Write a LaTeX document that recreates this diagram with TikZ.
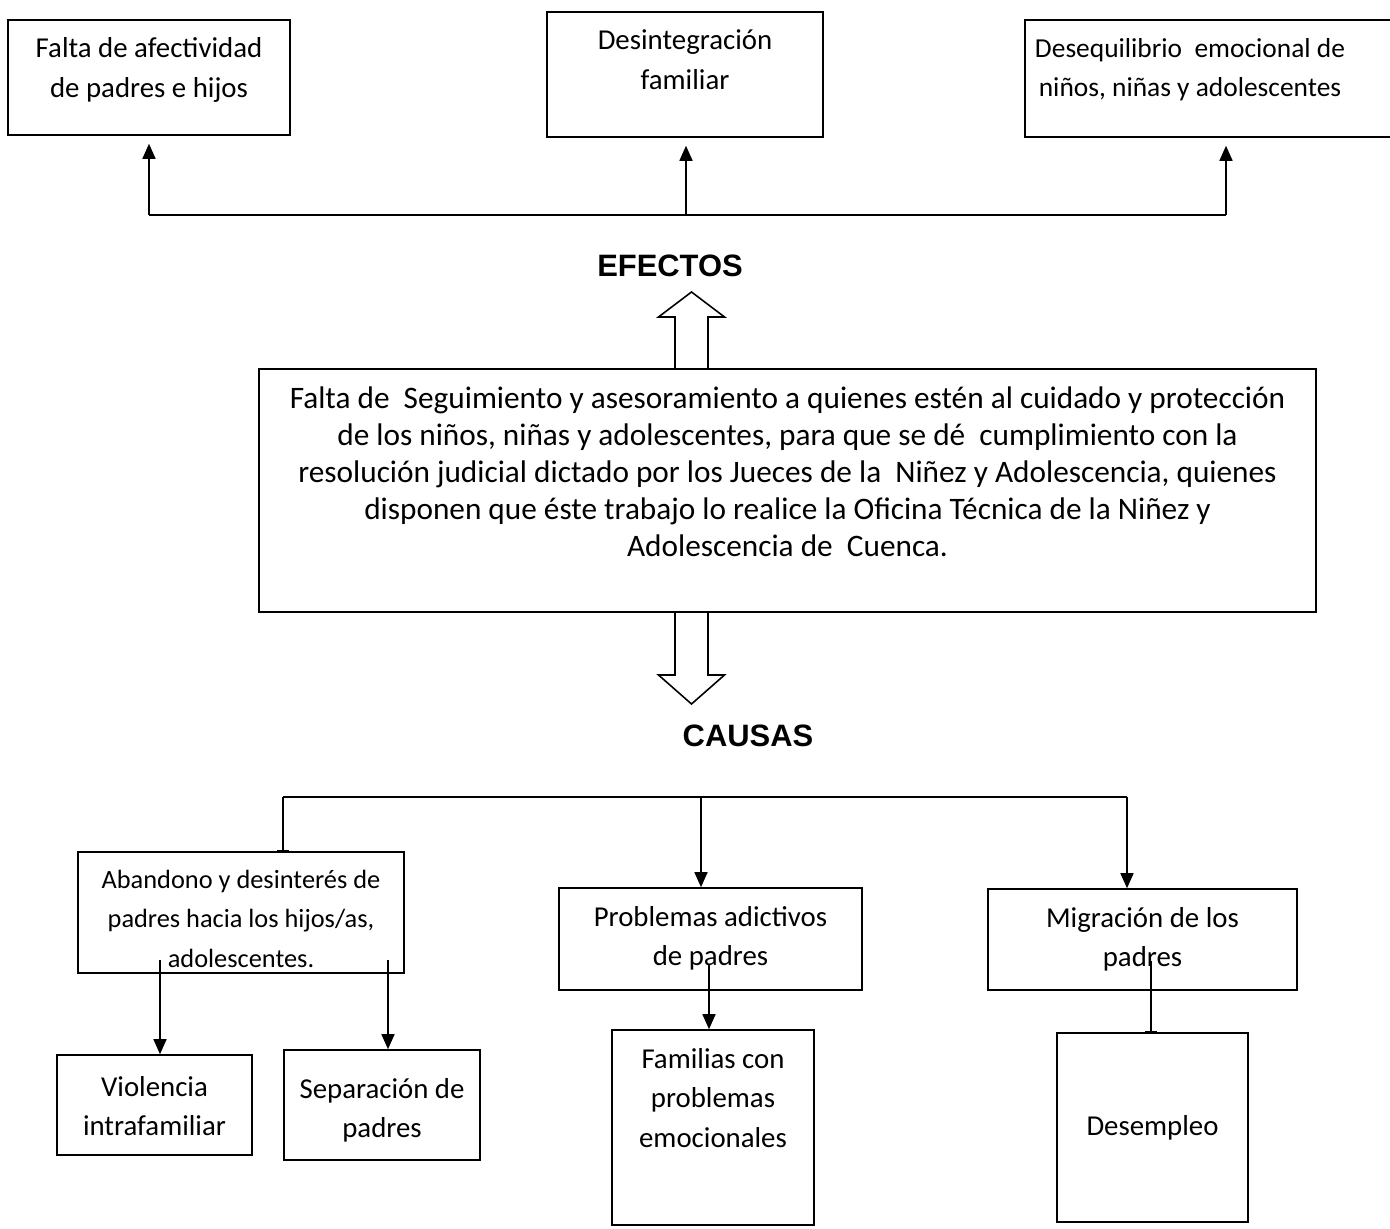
\documentclass[tikz,border=0pt]{standalone}
\usepackage{fontspec}
\setmainfont{Carlito}
\newfontfamily\headfont{Liberation Sans}
\usepackage{tikz}
\usetikzlibrary{arrows.meta, positioning}

% box with text at the top: width, height, text
\newcommand{\boxtxt}[3]{\parbox[c][#2][t]{#1}{\centering\vspace{0.36cm}#3}}

\begin{document}
\begin{tikzpicture}[
    box/.style={rectangle, draw, line width=0.9pt, inner sep=0pt, font=\fontsize{16.4}{22.5}\selectfont},
    head/.style={font=\headfont\bfseries\fontsize{17.6}{20}\selectfont},
    line/.style={line width=0.9pt},
    arrow/.style={line width=0.9pt, -{Triangle[width=0.26cm, length=0.3cm]}},
    tee/.style={line width=0.9pt, -{Bar[width=0.24cm]}}
]
\useasboundingbox (0,0) rectangle (27.8,24.56);

% Efectos
\node[box] (ef1) at (2.98,23.01) {\boxtxt{5.64cm}{2.3cm}{Falta de afectividad\\ de padres e hijos}};
\node[box] (ef2) at (13.7,23.07) {\boxtxt{5.52cm}{2.5cm}{Desintegración\\ familiar}};
\node[box, font=\fontsize{15.6}{22.5}\selectfont] (ef3) at (24.16,22.99) {\boxtxt{6.6cm}{2.34cm}{Desequilibrio \ emocional de\\ niños, niñas y adolescentes}\kern0.72cm};

\node[head] (efectos) at (13.4,19.24) {EFECTOS};

% Problema central
\node[box, font=\fontsize{17.8}{21}\selectfont] (main) at (15.75,14.75) {\boxtxt{21.14cm}{4.86cm}{Falta de \ Seguimiento y asesoramiento a quienes estén al cuidado y protección\\ de los niños, niñas y adolescentes, para que se dé \ cumplimiento con la\\ resolución judicial dictado por los Jueces de la \ Niñez y Adolescencia, quienes\\ disponen que éste trabajo lo realice la Oficina Técnica de la Niñez y\\ Adolescencia de \ Cuenca.}};

\node[head] (causas) at (14.96,9.84) {CAUSAS};

% Causas
\node[box, font=\fontsize{15}{22.5}\selectfont] (aband) at (4.82,6.31) {\boxtxt{6.52cm}{2.42cm}{Abandono y desinterés de\\ padres hacia los hijos/as,\\ adolescentes.}};
\node[box] (prob) at (14.21,5.78) {\boxtxt{6.06cm}{2.04cm}{Problemas adictivos\\ de padres}};
\node[box] (migr) at (22.85,5.77) {\boxtxt{6.18cm}{2.02cm}{Migración de los\\ padres}};
\node[box] (viol) at (3.09,2.46) {\boxtxt{3.9cm}{2.0cm}{\vspace{0.06cm}Violencia\\ intrafamiliar}};
\node[box] (sep) at (7.64,2.46) {\boxtxt{3.92cm}{2.2cm}{\vspace{0.2cm}Separación de\\ padres}};
\node[box] (fam) at (14.26,2.01) {\boxtxt{4.04cm}{3.9cm}{Familias con\\ problemas\\ emocionales}};
\node[box, minimum width=3.82cm, minimum height=3.78cm] (desem) at (23.05,2.01) {Desempleo};

% Arrows (efectos)
\coordinate (e1) at (2.98,20.26);
\coordinate (e2) at (13.72,20.26);
\coordinate (e3) at (24.52,20.26);
\draw[line] (e1) -- (e3);
\draw[arrow, shorten >=0.16cm] (e1) -- (e1 |- ef1.south);
\draw[arrow, shorten >=0.16cm] (e2) -- (e2 |- ef2.south);
\draw[arrow, shorten >=0.16cm] (e3) -- (e3 |- ef3.south);

% Block arrows
\coordinate (up) at (13.83,17.18);
\draw[line] ([xshift=-0.33cm]up) -- ++(0,1.04) -- ++(-0.33,0) -- ++(0.66,0.5) -- ++(0.66,-0.5) -- ++(-0.33,0) -- ++(0,-1.04);
\coordinate (down) at (13.83,12.32);
\draw[line] ([xshift=-0.33cm]down) -- ++(0,-1.26) -- ++(-0.33,0) -- ++(0.66,-0.58) -- ++(0.66,0.58) -- ++(-0.33,0) -- ++(0,1.26);

% Arrows (causas)
\coordinate (c1) at (5.66,8.62);
\coordinate (c2) at (14.02,8.62);
\coordinate (c3) at (22.54,8.62);
\draw[line] (c1) -- (c3);
\draw[tee] (c1) -- (c1 |- aband.north);
\draw[arrow] (c2) -- (c2 |- prob.north);
\draw[arrow] (c3) -- (c3 |- migr.north);

\coordinate (a1) at (3.2,5.36);
\coordinate (a2) at (7.76,5.36);
\coordinate (p1) at (14.18,5.28);
\coordinate (m1) at (23.02,5.34);
\draw[arrow] (a1) -- (a1 |- viol.north);
\draw[arrow] (a2) -- (a2 |- sep.north);
\draw[arrow] (p1) -- (p1 |- fam.north);
\draw[tee] (m1) -- (m1 |- desem.north);

\end{tikzpicture}
\end{document}
